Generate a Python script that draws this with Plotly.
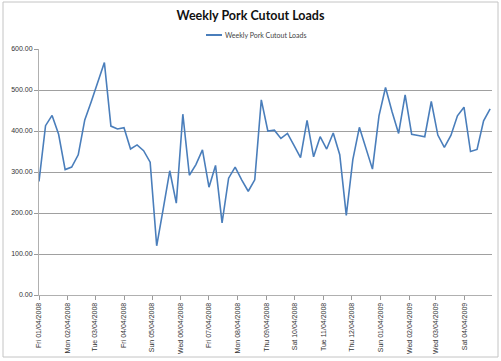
import plotly.graph_objects as go
import pandas as pd

# ---- data ----
start_date = "2008-01-04"
loads = [277, 413, 438, 392, 306, 312, 342, 427, 472, 520,
         567, 412, 405, 408, 356, 366, 352, 324, 120, 210,
         303, 224, 441, 292, 318, 354, 263, 316, 176, 285,
         312, 281, 253, 281, 476, 400, 402, 382, 394, 365,
         335, 426, 337, 386, 356, 395, 342, 194, 330, 409,
         358, 307, 437, 506, 447, 394, 488, 392, 389, 386,
         472, 390, 360, 389, 437, 458, 350, 355, 425, 454]
weeks = pd.date_range(start_date, periods=len(loads), freq="7D")

tick_dates = ["2008-01-04", "2008-02-04", "2008-03-04", "2008-04-04",
              "2008-05-04", "2008-06-04", "2008-07-04", "2008-08-04",
              "2008-09-04", "2008-10-04", "2008-11-04", "2008-12-04",
              "2009-01-04", "2009-02-04", "2009-03-04", "2009-04-04"]
tick_labels = ["Fri 01/04/2008", "Mon 02/04/2008", "Tue 03/04/2008", "Fri 04/04/2008",
               "Sun 05/04/2008", "Wed 06/04/2008", "Fri 07/04/2008", "Mon 08/04/2008",
               "Thu 09/04/2008", "Sat 10/04/2008", "Tue 11/04/2008", "Thu 12/04/2008",
               "Sun 01/04/2009", "Wed 02/04/2009", "Wed 03/04/2009", "Sat 04/04/2009"]
y_ticks = [0, 100, 200, 300, 400, 500, 600]
y_labels = ["0.00", "100.00", "200.00", "300.00", "400.00", "500.00", "600.00"]
series_name = "Weekly Pork Cutout Loads"
title_text = "Weekly Pork Cutout Loads"

# ---- figure ----
W, H = 501, 361
L, R, T, B = 39, 9, 49, 66
pw, ph = W - L - R, H - T - B
line_color = "#4a7ebb"

fig = go.Figure()
fig.add_trace(go.Scatter(x=weeks, y=loads, mode="lines", name=series_name,
                         line=dict(color=line_color, width=1.6), showlegend=False))


def px_x(p):
    return (p - L) / pw


def px_y(p):
    return (H - B - p) / ph


fig.update_layout(
    width=W, height=H,
    margin=dict(l=L, r=R, t=T, b=B, autoexpand=False),
    paper_bgcolor="white", plot_bgcolor="white",
    font=dict(family="Lato, Liberation Sans, sans-serif", color="#333333"),
    title=dict(text="<b>%s</b>" % title_text, x=0.5, xanchor="center",
               y=1 - 16 / H, yanchor="middle",
               font=dict(size=12.5, color="#111111")),
    showlegend=False,
    xaxis=dict(type="date", range=["2008-01-04", "2009-05-03"],
               tickmode="array", tickvals=tick_dates, ticktext=tick_labels,
               tickangle=-90, tickfont=dict(size=7, family="Liberation Sans, Arial, sans-serif"),
               ticks="outside", ticklen=4, tickcolor="#9a9a9a",
               showgrid=False, showline=True, linecolor="#b0b0b0", linewidth=1,
               zeroline=False),
    yaxis=dict(range=[0, 600], tickmode="array", tickvals=y_ticks, ticktext=y_labels,
               tickfont=dict(size=7, family="Liberation Sans, Arial, sans-serif"),
               ticks="outside", ticklen=4, tickcolor="#9a9a9a",
               showgrid=True, gridcolor="#a0a0a0", gridwidth=1,
               showline=True, linecolor="#b0b0b0", linewidth=1,
               zeroline=False),
    shapes=[
        dict(type="rect", xref="paper", yref="paper",
             x0=px_x(3), x1=px_x(498), y0=px_y(357), y1=px_y(2),
             line=dict(color="#c4c4c4", width=1), layer="below"),
        # legend key
        dict(type="line", xref="paper", yref="paper",
             x0=px_x(206), x1=px_x(222), y0=px_y(35), y1=px_y(35),
             line=dict(color=line_color, width=2)),
    ],
    annotations=[
        dict(text=series_name, xref="paper", yref="paper",
             x=px_x(223), y=px_y(35), xanchor="left", yanchor="middle",
             showarrow=False, font=dict(size=7, color="#444444")),
    ],
)

fig.write_html("out.html", config={"displayModeBar": False},
               post_script="document.body.style.margin='0';")
